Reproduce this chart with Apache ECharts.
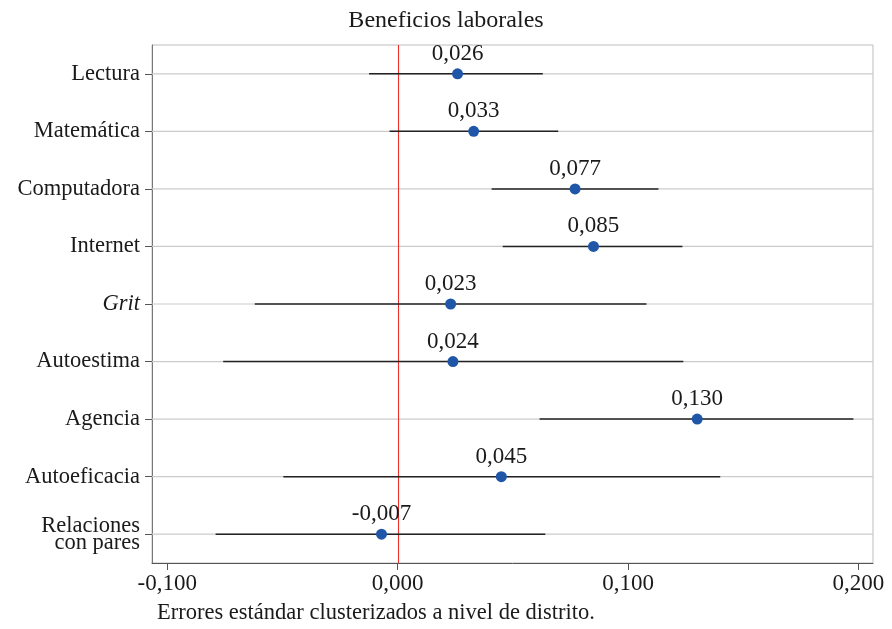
<!DOCTYPE html>
<html><head><meta charset="utf-8">
<script src="https://cdn.jsdelivr.net/npm/echarts@6/dist/echarts.min.js"></script>
<style>html,body{margin:0;padding:0;background:#fff}#c{width:892px;height:629px}</style>
</head><body><div id="c"></div>
<script>
const categories = ['Lectura','Matemática','Computadora','Internet','Grit','Autoestima','Agencia','Autoeficacia','Relaciones\ncon pares'];
const estimates = [0.026, 0.033, 0.077, 0.085, 0.023, 0.024, 0.130, 0.045, -0.007];
const lower = [-0.0124, -0.0035, 0.0408, 0.0456, -0.0620, -0.0757, 0.0616, -0.0496, -0.0790];
const upper = [0.0630, 0.0697, 0.1132, 0.1236, 0.1080, 0.1240, 0.1978, 0.1400, 0.0641];
const xTicks = [-0.1, 0, 0.1, 0.2];
const xRange = [-0.1066, 0.2063];
const refValue = [0];

const font = '"Liberation Serif", "DejaVu Serif", serif';
const fmt = v => (v < 0 ? '-' : '') + Math.abs(v).toFixed(3).replace('.', ',');

const chart = echarts.init(document.getElementById('c'));
chart.setOption({
  backgroundColor: '#fff',
  animation: false,
  textStyle: { fontFamily: font },
  title: {
    text: 'Beneficios laborales', left: 'center', top: 4,
    textStyle: { fontFamily: font, fontWeight: 'normal', fontSize: 24, color: '#1a1a1a' }
  },
  graphic: [{
    type: 'text', left: 157, top: 602,
    style: { text: 'Errores estándar clusterizados a nivel de distrito.', font: '22.5px ' + font, fill: '#1a1a1a' }
  }],
  grid: { left: 152, right: 19, top: 45, bottom: 66, show: true, borderColor: '#bdbdbd', borderWidth: 1, containLabel: false },
  xAxis: {
    type: 'value', min: xRange[0], max: xRange[1],
    axisLine: { show: true, onZero: false, lineStyle: { color: '#555', width: 1 } },
    axisTick: { show: true, length: 7, customValues: xTicks, lineStyle: { color: '#555' } },
    axisLabel: { customValues: xTicks, formatter: v => fmt(v), fontFamily: font, fontSize: 23, color: '#1a1a1a', margin: 9 },
    splitLine: { show: false }
  },
  yAxis: {
    type: 'category', data: categories, inverse: true,
    axisLine: { show: true, onZero: false, lineStyle: { color: '#777' } },
    axisTick: { show: true, length: 7, alignWithLabel: true, lineStyle: { color: '#555' } },
    axisLabel: {
      fontFamily: font, fontSize: 22.5, color: '#1a1a1a', margin: 12, lineHeight: 17,
      formatter: v => v === 'Grit' ? '{i|Grit}' : v,
      rich: { i: { fontStyle: 'italic', fontFamily: font, fontSize: 22.5, color: '#1a1a1a' } }
    },
    splitLine: { show: false }
  },
  series: [
    {
      type: 'custom',
      data: categories.map((c, i) => [xRange[0], xRange[1], i]),
      encode: { x: [0, 1], y: 2 },
      silent: true,
      renderItem: (params, api) => {
        const a = api.coord([api.value(0), api.value(2)]);
        const b = api.coord([api.value(1), api.value(2)]);
        return { type: 'line', shape: { x1: a[0], y1: a[1], x2: b[0], y2: b[1] }, style: { stroke: '#cccccc', lineWidth: 1.2 } };
      },
      z: 1
    },
    {
      type: 'custom',
      data: refValue.map(v => [v, 0]),
      encode: { x: 0, y: 1 },
      silent: true,
      renderItem: (params, api) => {
        const cs = params.coordSys;
        const x = Math.round(api.coord([api.value(0), 0])[0]) + 0.5;
        return { type: 'line', shape: { x1: x, y1: cs.y, x2: x, y2: cs.y + cs.height }, style: { stroke: '#f0302c', lineWidth: 1.1 } };
      },
      z: 2
    },
    {
      type: 'custom',
      data: categories.map((c, i) => [lower[i], upper[i], i]),
      encode: { x: [0, 1], y: 2 },
      renderItem: (params, api) => {
        const a = api.coord([api.value(0), api.value(2)]);
        const b = api.coord([api.value(1), api.value(2)]);
        return { type: 'line', shape: { x1: a[0], y1: a[1], x2: b[0], y2: b[1] }, style: { stroke: '#222', lineWidth: 1.5 } };
      },
      z: 3
    },
    {
      type: 'scatter',
      data: categories.map((c, i) => [estimates[i], i]),
      symbolSize: 11,
      itemStyle: { color: '#1f56a8', opacity: 1 },
      label: {
        show: true, position: 'top', distance: 3,
        formatter: p => fmt(p.value[0]),
        fontFamily: font, fontSize: 23, color: '#1a1a1a'
      },
      z: 4
    }
  ]
});
</script>
</body></html>
